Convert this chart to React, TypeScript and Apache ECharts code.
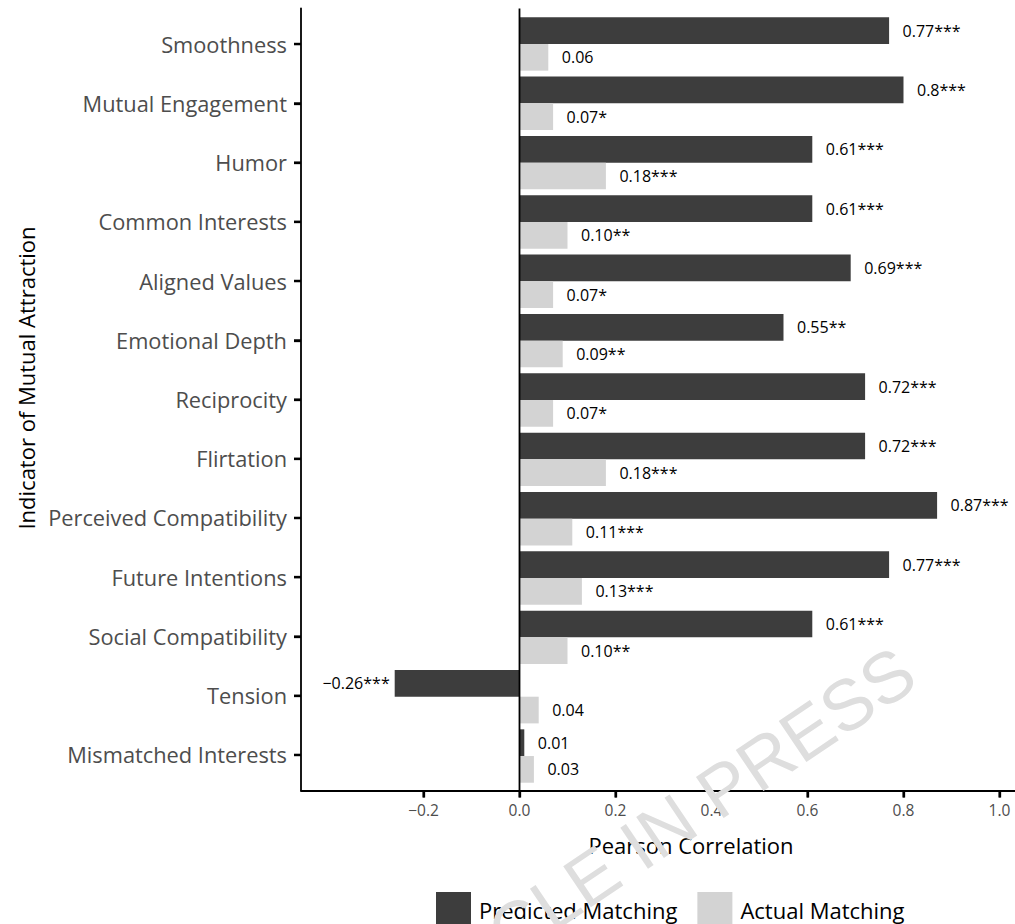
import { useEffect, useRef } from "react";
import * as echarts from "echarts";

// Indicators, listed top to bottom
const categories = [
  "Smoothness",
  "Mutual Engagement",
  "Humor",
  "Common Interests",
  "Aligned Values",
  "Emotional Depth",
  "Reciprocity",
  "Flirtation",
  "Perceived Compatibility",
  "Future Intentions",
  "Social Compatibility",
  "Tension",
  "Mismatched Interests",
];

// Pearson correlations with predicted matching
const predicted = [0.77, 0.8, 0.61, 0.61, 0.69, 0.55, 0.72, 0.72, 0.87, 0.77, 0.61, -0.26, 0.01];
const predictedSig = ["***", "***", "***", "***", "***", "**", "***", "***", "***", "***", "***", "***", ""];

// Pearson correlations with actual matching
const actual = [0.06, 0.07, 0.18, 0.1, 0.07, 0.09, 0.07, 0.18, 0.11, 0.13, 0.1, 0.04, 0.03];
const actualSig = ["", "*", "***", "**", "*", "**", "*", "***", "***", "***", "**", "", ""];

const xTicks = [-0.2, 0, 0.2, 0.4, 0.6, 0.8, 1.0];

const seriesNames = ["Predicted Matching", "Actual Matching"];

const X_MIN = -0.4552;
const X_MAX = 1.0323;
const FONT = "'Open Sans', 'Noto Sans', sans-serif";

const minus = (s: string) => s.replace("-", "\u2212");

export default function App() {
  const ref = useRef<HTMLDivElement>(null);

  useEffect(() => {
    if (!ref.current) return;
    const chart = echarts.init(ref.current, null, { renderer: "svg" });

    const axisStroke = { color: "#000", width: 1.8 };
    const tickStroke = { color: "#000", width: 2.3 };
    const n = categories.length;
    const Y_MIN = 0.4;
    const Y_MAX = n + 0.6;
    // discrete positions 1..n (bottom to top), padded by 0.6 on both ends
    const positions = categories.map((_, i) => i + 1);

    const option: any = {
      animation: false,
      backgroundColor: "#fff",
      textStyle: { fontFamily: FONT },
      grid: [
        // panel frame
        { left: 301, top: 8.5, right: 0, height: 782 },
        // bar area (categories inset from the frame)
        { left: 301, top: 14.3, right: 0, height: 771.4 },
      ],
      xAxis: [
        {
          gridIndex: 0,
          type: "value",
          min: X_MIN,
          max: X_MAX,
          axisLine: { show: true, onZero: false, lineStyle: axisStroke },
          axisTick: { show: true, customValues: xTicks, length: 7, lineStyle: tickStroke },
          axisLabel: {
            customValues: xTicks,
            formatter: (v: number) => minus(v.toFixed(1)),
            color: "#4d4d4d",
            fontSize: 15.5,
            fontFamily: FONT,
            margin: 11,
          },
          splitLine: { show: false },
        },
        { gridIndex: 1, type: "value", min: X_MIN, max: X_MAX, show: false },
      ],
      yAxis: [
        {
          gridIndex: 0,
          type: "value",
          min: Y_MIN,
          max: Y_MAX,
          axisLine: { show: true, onZero: false, lineStyle: axisStroke },
          axisTick: { show: true, customValues: positions, length: 7, lineStyle: tickStroke },
          axisLabel: {
            customValues: positions,
            formatter: (v: number) => categories[n - Math.round(v)],
            margin: 14,
            color: "#4d4d4d",
            fontSize: 21.8,
            fontFamily: FONT,
          },
          splitLine: { show: false },
        },
        {
          gridIndex: 1,
          type: "category",
          data: categories,
          inverse: true,
          show: false,
        },
      ],
      legend: {
        data: seriesNames,
        left: 431,
        top: 887,
        itemWidth: 35,
        itemHeight: 35,
        itemGap: 20,
        icon: "rect",
        textStyle: { fontSize: 22, fontFamily: FONT, color: "#000", padding: [0, 0, 0, 3] },
      },
      series: [
        {
          // vertical reference line at zero
          type: "line",
          xAxisIndex: 0,
          yAxisIndex: 0,
          data: [
            [0, Y_MIN],
            [0, Y_MAX],
          ],
          symbol: "none",
          silent: true,
          lineStyle: axisStroke,
          z: 5,
        },
        {
          // tick marks on the category axis
          type: "scatter",
          xAxisIndex: 0,
          yAxisIndex: 0,
          data: positions.map((p) => [X_MIN, p]),
          symbol: "rect",
          symbolSize: [7, 2.3],
          symbolOffset: [-3.5, 0],
          itemStyle: { color: "#000" },
          clip: false,
          silent: true,
          z: 6,
        },
        {
          // tick marks on the correlation axis
          type: "scatter",
          xAxisIndex: 0,
          yAxisIndex: 0,
          data: xTicks.map((t) => [t, Y_MIN]),
          symbol: "rect",
          symbolSize: [2.3, 7],
          symbolOffset: [0, 3.5],
          itemStyle: { color: "#000" },
          clip: false,
          silent: true,
          z: 6,
        },
        {
          name: seriesNames[0],
          type: "bar",
          xAxisIndex: 1,
          yAxisIndex: 1,
          barGap: "0%",
          barCategoryGap: "10%",
          itemStyle: { color: "#3d3d3d" },
          data: predicted.map((v) =>
            v < 0 ? { value: v, label: { position: "left", distance: 5 } } : { value: v }
          ),
          label: {
            show: true,
            position: "right",
            distance: 13.5,
            color: "#000",
            fontSize: 16,
            fontFamily: FONT,
            formatter: (p: any) => minus(String(predicted[p.dataIndex])) + predictedSig[p.dataIndex],
          },
        },
        {
          name: seriesNames[1],
          type: "bar",
          xAxisIndex: 1,
          yAxisIndex: 1,
          barGap: "0%",
          barCategoryGap: "10%",
          itemStyle: { color: "#d3d3d3" },
          data: actual,
          label: {
            show: true,
            position: "right",
            distance: 13.5,
            color: "#000",
            fontSize: 16,
            fontFamily: FONT,
            formatter: (p: any) => actual[p.dataIndex].toFixed(2) + actualSig[p.dataIndex],
          },
        },
      ],
      graphic: [
        {
          type: "text",
          x: 691,
          y: 845,
          style: {
            text: "Pearson Correlation",
            font: `22px ${FONT}`,
            fill: "#000",
            textAlign: "center",
            textVerticalAlign: "middle",
          },
        },
        {
          type: "text",
          x: 26,
          y: 378,
          rotation: Math.PI / 2,
          style: {
            text: "Indicator of Mutual Attraction",
            font: `22px ${FONT}`,
            fill: "#000",
            textAlign: "center",
            textVerticalAlign: "middle",
          },
        },
        {
          // diagonal watermark
          type: "text",
          x: 907,
          y: 664,
          rotation: (34 * Math.PI) / 180,
          z: 100,
          silent: true,
          style: {
            text: "ARTICLE IN PRESS",
            font: `72px 'Liberation Sans Narrow', 'Liberation Sans', Arial, sans-serif`,
            fill: "#dedede",
            textAlign: "right",
            textVerticalAlign: "middle",
          },
        },
      ],
    };

    chart.setOption(option);
    return () => chart.dispose();
  }, []);

  return (
    <div
      ref={ref}
      style={{ position: "fixed", left: 0, top: 0, width: 1015, height: 924, background: "#fff" }}
    />
  );
}
